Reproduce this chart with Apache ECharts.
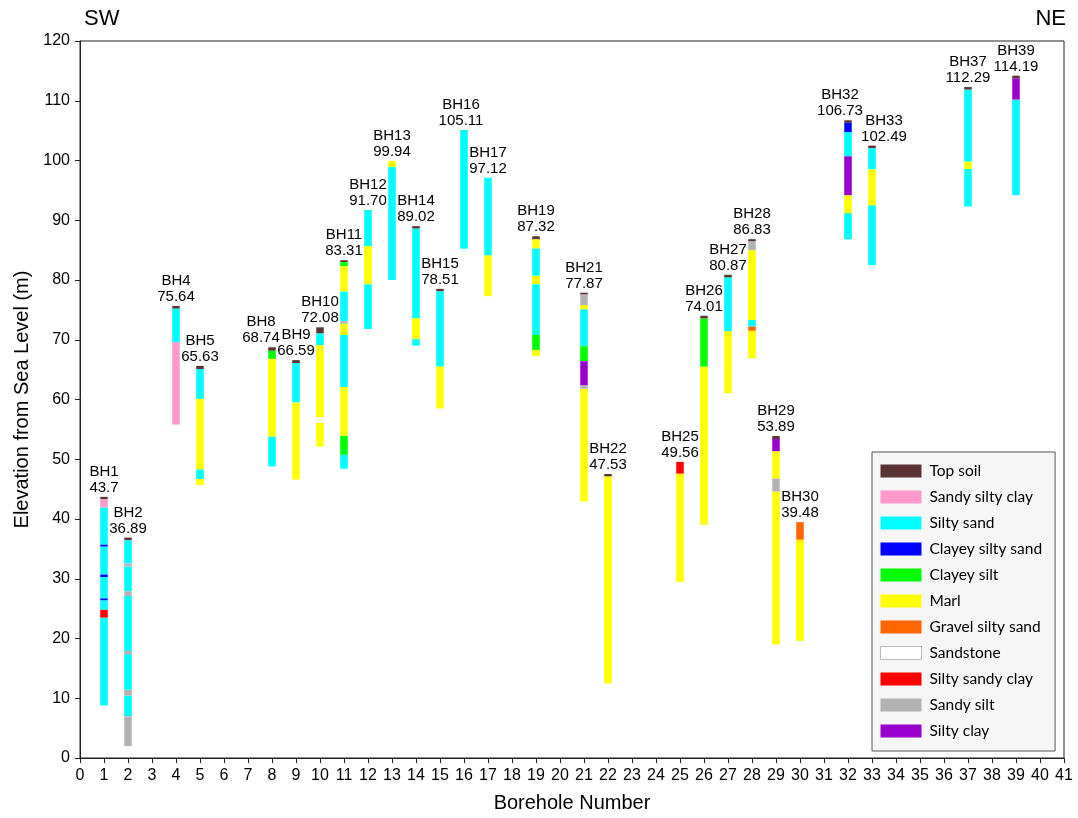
<!DOCTYPE html>
<html>
<head>
<meta charset="utf-8">
<script src="https://cdn.jsdelivr.net/npm/echarts@6/dist/echarts.min.js"></script>
<style>
  html, body { margin: 0; padding: 0; background: #fff; }
  #chart { width: 1078px; height: 818px; }
</style>
</head>
<body>
<div id="chart"></div>
<script>
const soils = ['Top soil', 'Sandy silty clay', 'Silty sand', 'Clayey silty sand', 'Clayey silt', 'Marl',
    'Gravel silty sand', 'Sandstone', 'Silty sandy clay', 'Sandy silt', 'Silty clay']
const soilColors = ['#5b3333', '#ff99cc', '#00ffff', '#0000ff', '#00ff00', '#ffff00',
    '#ff6600', '#ffffff', '#ff0000', '#b3b3b3', '#9900cc']

// borehole labels
const holes = [1, 2, 4, 5, 8, 9, 10, 11, 12, 13, 14, 15, 16, 17, 19, 21, 22, 25, 26, 27, 28, 29, 30, 32, 33, 37, 39]
const topText = ['43.7', '36.89', '75.64', '65.63', '68.74', '66.59', '72.08', '83.31', '91.70', '99.94', '89.02',
    '78.51', '105.11', '97.12', '87.32', '77.87', '47.53', '49.56', '74.01', '80.87', '86.83', '53.89', '39.48',
    '106.73', '102.49', '112.29', '114.19']

// layers: [borehole, top, bottom, soil index]
const layers = [
    [1, 43.7, 43.3, 0], [1, 43.3, 41.9, 1], [1, 41.9, 35.7, 2], [1, 35.7, 35.4, 3], [1, 35.4, 30.7, 2],
    [1, 30.7, 30.3, 3], [1, 30.3, 26.7, 2], [1, 26.7, 26.4, 3], [1, 26.4, 24.8, 2], [1, 24.8, 23.5, 8],
    [1, 23.5, 8.8, 2],
    [2, 36.89, 36.45, 0], [2, 36.45, 32.55, 2], [2, 32.55, 32.05, 9], [2, 32.05, 27.9, 2], [2, 27.9, 27.1, 9],
    [2, 27.1, 17.9, 2], [2, 17.9, 17.4, 9], [2, 17.4, 11.4, 2], [2, 11.4, 10.45, 9], [2, 10.45, 6.95, 2],
    [2, 6.95, 2.0, 9],
    [4, 75.64, 75.2, 0], [4, 75.2, 69.6, 2], [4, 69.6, 55.8, 1],
    [5, 65.63, 65.1, 0], [5, 65.1, 60.1, 2], [5, 60.1, 48.3, 5], [5, 48.3, 46.7, 2], [5, 46.7, 45.7, 5],
    [8, 68.74, 68.15, 0], [8, 68.15, 66.8, 4], [8, 66.8, 53.8, 5], [8, 53.8, 48.8, 2],
    [9, 66.59, 66.1, 0], [9, 66.1, 59.5, 2], [9, 59.5, 46.6, 5],
    [10, 72.08, 71.05, 0], [10, 71.05, 69.1, 2], [10, 69.1, 57.0, 5], [10, 57.0, 56.1, 7], [10, 56.1, 52.1, 5],
    [11, 83.31, 83.0, 0], [11, 83.0, 82.3, 4], [11, 82.3, 78.1, 5], [11, 78.1, 73.1, 2], [11, 73.1, 72.7, 9],
    [11, 72.7, 70.8, 5], [11, 70.8, 62.1, 2], [11, 62.1, 53.95, 5], [11, 53.95, 50.75, 4], [11, 50.75, 48.4, 2],
    [12, 91.7, 85.7, 2], [12, 85.7, 79.3, 5], [12, 79.3, 71.8, 2],
    [13, 99.94, 98.9, 5], [13, 98.9, 80.0, 2],
    [14, 89.02, 88.6, 0], [14, 88.6, 73.6, 2], [14, 73.6, 70.1, 5], [14, 70.1, 69.0, 2],
    [15, 78.51, 78.1, 0], [15, 78.1, 65.5, 2], [15, 65.5, 58.5, 5],
    [16, 105.11, 85.25, 2],
    [17, 97.12, 84.1, 2], [17, 84.1, 77.3, 5],
    [19, 87.32, 86.8, 0], [19, 86.8, 85.3, 5], [19, 85.3, 80.7, 2], [19, 80.7, 79.3, 5], [19, 79.3, 70.8, 2],
    [19, 70.8, 68.3, 4], [19, 68.3, 67.3, 5],
    [21, 77.87, 77.55, 0], [21, 77.55, 75.8, 9], [21, 75.8, 75.1, 5], [21, 75.1, 68.9, 2], [21, 68.9, 66.4, 4],
    [21, 66.4, 62.4, 10], [21, 62.4, 61.8, 9], [21, 61.8, 42.95, 5],
    [22, 47.53, 47.1, 0], [22, 47.1, 12.5, 5],
    [25, 49.56, 47.6, 8], [25, 47.6, 29.5, 5],
    [26, 74.01, 73.55, 0], [26, 73.55, 65.5, 4], [26, 65.5, 39.05, 5],
    [27, 80.87, 80.4, 0], [27, 80.4, 71.4, 2], [27, 71.4, 61.05, 5],
    [28, 86.83, 86.45, 0], [28, 86.45, 85.0, 9], [28, 85.0, 73.3, 5], [28, 73.3, 72.2, 2], [28, 72.2, 71.5, 6],
    [28, 71.5, 66.9, 5],
    [29, 53.89, 53.4, 0], [29, 53.4, 51.35, 10], [29, 51.35, 46.75, 5], [29, 46.75, 44.6, 9], [29, 44.6, 19.0, 5],
    [30, 39.48, 36.55, 6], [30, 36.55, 19.6, 5],
    [32, 106.73, 106.3, 0], [32, 106.3, 104.75, 3], [32, 104.75, 100.7, 2], [32, 100.7, 94.2, 10],
    [32, 94.2, 91.2, 5], [32, 91.2, 86.8, 2],
    [33, 102.49, 102.05, 0], [33, 102.05, 98.5, 2], [33, 98.5, 92.5, 5], [33, 92.5, 82.5, 2],
    [37, 112.29, 111.85, 0], [37, 111.85, 99.8, 2], [37, 99.8, 98.6, 5], [37, 98.6, 92.3, 2],
    [39, 114.19, 113.75, 0], [39, 113.75, 110.2, 10], [39, 110.2, 94.2, 2],
]

// a few labels are nudged sideways in the original
const labelShift = { 8: -11, 16: -3, 32: -8, 33: 12 }

const barWidth = 7.5
const renderLayer = (params, api) => {
    const x = api.value(0)
    const p1 = api.coord([x, api.value(1)])
    const p2 = api.coord([x, api.value(2)])
    return {
        type: 'rect',
        shape: { x: p1[0] - barWidth / 2, y: p1[1], width: barWidth, height: p2[1] - p1[1] },
        style: api.style({ stroke: null }),
    }
}

const layerSeries = soils.map((name, i) => ({
    name: name,
    type: 'custom',
    renderItem: renderLayer,
    itemStyle: { color: soilColors[i] },
    encode: { x: 0, y: [1, 2] },
    data: layers.filter((l) => l[3] === i),
    z: 2,
}))

// "BHn / elevation" text above each borehole
const labelSeries = {
    type: 'custom',
    data: holes.map((h, i) => [h, parseFloat(topText[i])]),
    renderItem: (params, api) => {
        const h = api.value(0)
        const p = api.coord([h, api.value(1)])
        return {
            type: 'text',
            x: p[0] + (labelShift[h] || 0),
            y: p[1] - 1,
            style: {
                text: 'BH' + h + '\n' + topText[params.dataIndex],
                align: 'center',
                verticalAlign: 'bottom',
                fontFamily: 'Liberation Sans, Arial, sans-serif',
                fontSize: 15,
                lineHeight: 16,
                fill: '#000',
            },
        }
    },
    z: 3,
}

const chart = echarts.init(document.getElementById('chart'), null, { renderer: 'canvas' })
const axisFont = { fontFamily: 'Liberation Sans, Arial, sans-serif', fontSize: 16, color: '#000' }

chart.setOption({
    animation: false,
    grid: {
        left: 80, right: 14, top: 41, bottom: 58,
        show: true, borderColor: '#222', borderWidth: 1,
    },
    xAxis: {
        type: 'value', min: 0, max: 41, interval: 1,
        name: 'Borehole Number', nameLocation: 'middle', nameGap: 35,
        nameTextStyle: { fontFamily: 'Liberation Sans, Arial, sans-serif', fontSize: 20, color: '#000' },
        axisLine: { lineStyle: { color: '#222' } },
        axisTick: { length: 5, lineStyle: { color: '#222' } },
        axisLabel: Object.assign({ margin: 10 }, axisFont),
        splitLine: { show: false },
    },
    yAxis: {
        type: 'value', min: 0, max: 120, interval: 10,
        name: 'Elevation from Sea Level (m)', nameLocation: 'middle', nameGap: 48,
        nameTextStyle: { fontFamily: 'Liberation Sans, Arial, sans-serif', fontSize: 20, color: '#000' },
        axisLine: { show: true, lineStyle: { color: '#222' } },
        axisTick: { show: true, length: 5, lineStyle: { color: '#222' } },
        axisLabel: Object.assign({ margin: 10 }, axisFont),
        splitLine: { show: false },
    },
    legend: {
        orient: 'vertical',
        left: 872, top: 452,
        padding: [10, 13, 11, 8],
        itemWidth: 41, itemHeight: 13, itemGap: 8,
        icon: 'rect',
        selectedMode: false,
        backgroundColor: '#f6f6f6',
        borderColor: '#555', borderWidth: 1, borderRadius: 0,
        textStyle: { fontFamily: 'Lato, Open Sans, sans-serif', fontSize: 15.5, lineHeight: 18, color: '#000', padding: [0, 0, 0, 3] },
        data: soils.map((s, i) => i === 7
            ? { name: s, itemStyle: { color: '#ffffff', borderColor: '#bbbbbb', borderWidth: 1 } }
            : { name: s }),
    },
    graphic: [
        { type: 'text', left: 84, top: 8, style: { text: 'SW', fontFamily: 'Liberation Sans, Arial, sans-serif', fontSize: 22, fill: '#000' } },
        { type: 'text', right: 12, top: 8, style: { text: 'NE', fontFamily: 'Liberation Sans, Arial, sans-serif', fontSize: 22, fill: '#000' } },
    ],
    series: layerSeries.concat([labelSeries]),
})
</script>
</body>
</html>
